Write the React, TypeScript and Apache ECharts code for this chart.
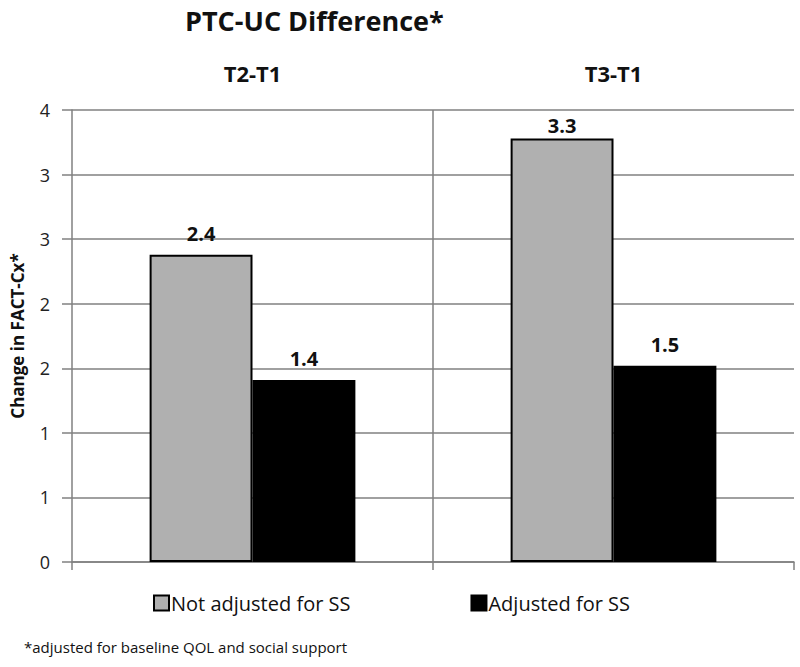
import React, { useEffect, useRef } from "react";
import * as echarts from "echarts";

const categories = ["T2-T1", "T3-T1"];
const seriesNames = ["Not adjusted for SS", "Adjusted for SS"];
const notAdjusted = [2.38, 3.28];
const adjusted = [1.41, 1.52];
const yMin = 0;
const yMax = 3.5;
const yInterval = 0.5;
const titleText = "PTC-UC Difference*";
const yAxisName = "Change in FACT-Cx*";
const footnote = "*adjusted for baseline QOL and social support";

const FONT = "'Open Sans', 'Noto Sans', sans-serif";

export default function App() {
  const ref = useRef<HTMLDivElement>(null);
  useEffect(() => {
    if (!ref.current) return;
    const chart = echarts.init(ref.current, undefined, { renderer: "svg" });
    const labelStyle = {
      show: true,
      position: "top" as const,
      distance: 11,
      fontFamily: FONT,
      fontWeight: "bold" as const,
      fontSize: 20,
      color: "#111",
      formatter: (p: any) => Number(p.value).toFixed(1),
    };
    // the tallest bar's label sits closer to the bar (as in the reference)
    const maxVal = Math.max(...notAdjusted, ...adjusted);
    const withLabels = (arr: number[]) =>
      arr.map((v) => (v === maxVal ? { value: v, label: { distance: 3 } } : v));
    chart.setOption({
      animation: false,
      backgroundColor: "#ffffff",
      textStyle: { fontFamily: FONT, color: "#111" },
      title: {
        text: titleText,
        left: 180,
        top: 2,
        textStyle: { fontFamily: FONT, fontWeight: "bold", fontSize: 27, color: "#111" },
      },
      legend: {
        data: seriesNames,
        left: 148,
        top: 588,
        itemWidth: 15,
        itemHeight: 15,
        itemGap: 120,
        icon: "rect",
        textStyle: { fontFamily: FONT, fontSize: 20, color: "#111", padding: [0, 0, 0, -3] },
      },
      graphic: [
        {
          type: "text",
          left: 24,
          top: 639,
          style: { text: footnote, font: `15px ${FONT}`, fill: "#111" },
        },
      ],
      grid: { left: 72, right: 6, top: 110, bottom: 105, containLabel: false },
      xAxis: [
        {
          type: "category",
          data: categories,
          position: "bottom",
          axisLine: { show: true, lineStyle: { color: "#808080", width: 1.5 } },
          axisTick: { show: true, length: 8, lineStyle: { color: "#808080", width: 1.5 } },
          axisLabel: { show: false },
          splitLine: { show: true, showMinLine: false, showMaxLine: false, lineStyle: { color: "#808080", width: 1.5 } },
        },
        {
          type: "category",
          data: categories,
          position: "top",
          axisLine: { show: false },
          axisTick: { show: false },
          axisLabel: { show: true, margin: 26, fontFamily: FONT, fontWeight: "bold", fontSize: 22, color: "#111" },
          splitLine: { show: false },
        },
      ],
      yAxis: {
        type: "value",
        min: yMin,
        max: yMax,
        interval: yInterval,
        name: yAxisName,
        nameLocation: "middle",
        nameGap: 46,
        nameRotate: 90,
        nameTextStyle: { fontFamily: FONT, fontWeight: "bold", fontSize: 17, color: "#111" },
        axisLine: { show: true, lineStyle: { color: "#808080", width: 1.5 } },
        axisTick: { show: true, length: 10, lineStyle: { color: "#808080", width: 1.5 } },
        axisLabel: {
          margin: 22,
          fontFamily: FONT,
          fontSize: 18,
          color: "#222",
          formatter: (v: number) => String(Math.round(v)),
        },
        splitLine: { show: true, lineStyle: { color: "#808080", width: 1.5 } },
      },
      series: [
        {
          name: seriesNames[0],
          type: "bar",
          xAxisIndex: 0,
          data: withLabels(notAdjusted),
          barGap: "0%",
          barCategoryGap: "43%",
          itemStyle: { color: "#b0b0b0", borderColor: "#000", borderWidth: 2 },
          label: labelStyle,
        },
        {
          name: seriesNames[1],
          type: "bar",
          xAxisIndex: 0,
          data: withLabels(adjusted),
          barGap: "0%",
          barCategoryGap: "43%",
          itemStyle: { color: "#000000", borderColor: "#000", borderWidth: 2 },
          label: labelStyle,
        },
      ],
    });
    return () => chart.dispose();
  }, []);
  return <div ref={ref} style={{ width: 800, height: 667, position: "absolute", left: 0, top: 0 }} />;
}
